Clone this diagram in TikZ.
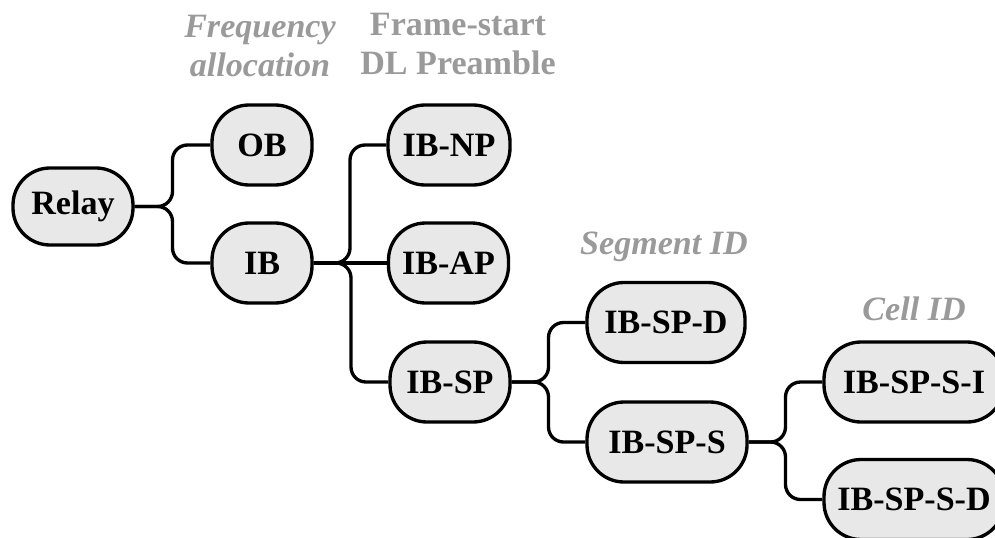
\documentclass[tikz,border=0pt]{standalone}
\usepackage{fontspec}
\setmainfont{Liberation Serif}
\usepackage{tikz}
\usetikzlibrary{positioning, calc}
\definecolor{boxfill}{HTML}{E8E8E8}
\definecolor{notegray}{HTML}{9A9A9A}

\begin{document}
\begin{tikzpicture}[
    every node/.style={font=\fontsize{19.4}{22}\selectfont\bfseries},
    box/.style={draw=black, line width=1.9pt, fill=boxfill, rounded corners=0.74cm,
        minimum height=1.6cm, inner sep=0pt},
    link/.style={draw=black, line width=1.9pt, rounded corners=0.3cm},
    note/.style={text=notegray, align=center, inner sep=0pt},
    slant/.style={note, font=\fontsize{19.4}{22}\selectfont\bfseries\itshape}
]
\useasboundingbox (0,0) rectangle (19.9,-10.74);

% tree nodes, one column per level
\node[box, minimum width=2.4cm, minimum height=1.54cm] (relay) at (1.46,-4.13) {Relay};

\node[box, minimum width=2.0cm] (ob) at (5.24,-2.9) {OB};
\node[box, minimum width=2.0cm] (ib) at (5.24,-5.26) {IB};

\node[box, minimum width=2.44cm] (ibnp) at (8.98,-2.9) {IB-NP};
\node[box, minimum width=2.4cm] (ibap) at (8.97,-5.26) {IB-AP};
\node[box, minimum width=2.4cm] (ibsp) at (9.0,-7.64) {IB-SP};

\node[box, minimum width=3.16cm] (ibspd) at (13.32,-6.45) {IB-SP-D};
\node[box, minimum width=3.2cm] (ibsps) at (13.34,-8.84) {IB-SP-S};

\node[box, minimum width=3.6cm] (ibspsi) at (18.28,-7.64) {IB-SP-S-I};
\node[box, minimum width=3.6cm] (ibspsd) at (18.28,-9.99) {IB-SP-S-D};

% gray captions above the levels
\node[slant] (freq) at (5.2,-0.92) {Frequency\\allocation};
\node[note] (frame) at (9.16,-0.88) {Frame-start\\DL Preamble};
\node[slant] (segid) at (13.28,-4.94) {Segment ID};
\node[slant] (cellid) at (18.28,-6.18) {Cell ID};

% branches
\foreach \a/\b in {relay/ob, relay/ib, ib/ibnp, ib/ibsp, ibsp/ibspd, ibsp/ibsps, ibsps/ibspsi, ibsps/ibspsd}
    \draw[link] (\a.east) -| ($(\a.east)!0.5!(\b.west)$) |- (\b.west);
\draw[link] (ib.east) -- (ibap.west);

\end{tikzpicture}
\end{document}
